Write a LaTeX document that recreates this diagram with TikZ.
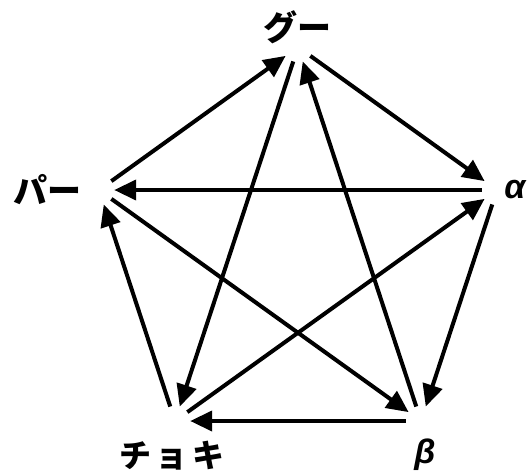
\documentclass[tikz,border=0pt]{standalone}
\usepackage{fontspec}
\setmainfont{Liberation Sans}
\newfontfamily\jp{Noto Sans CJK JP}
\usetikzlibrary{arrows.meta}
\begin{document}
\begin{tikzpicture}[x=1pt,y=-1pt,
  vtx/.style={circle,inner sep=0pt,minimum size=30pt},
  lbl/.style={inner sep=0pt,font=\fontsize{34}{34}\selectfont\bfseries},
  arr/.style={line width=4pt,-{Triangle[length=22pt,width=20pt]}}]
\useasboundingbox (0,0) rectangle (527,474);
\node[vtx] (g) at (298,47) {};
\node[vtx] (a) at (497,190) {};
\node[vtx] (b) at (421,421) {};
\node[vtx] (c) at (175,421) {};
\node[vtx] (p) at (99,190) {};
\node[lbl] (lg) at (297,27) {\jp\bfseries グー};
\node[lbl] (la) at (515,190) {\itshape α};
\node[lbl] (lb) at (425,455) {\itshape β};
\node[lbl] (lc) at (172,456) {\jp\bfseries\fontsize{32}{32}\selectfont チ\hspace{5pt}ョ\hspace{5pt}キ};
\node[lbl] (lp) at (47,190) {\jp\bfseries パー};
\draw[arr] (p) -- (g);
\draw[arr] (b) -- (g);
\draw[arr] (g) -- (a);
\draw[arr] (g) -- (c);
\draw[arr] (a) -- (p);
\draw[arr] (c) -- (a);
\draw[arr] (a) -- (b);
\draw[arr] (p) -- (b);
\draw[arr] (b) -- (c);
\draw[arr] (c) -- (p);
\end{tikzpicture}
\end{document}
